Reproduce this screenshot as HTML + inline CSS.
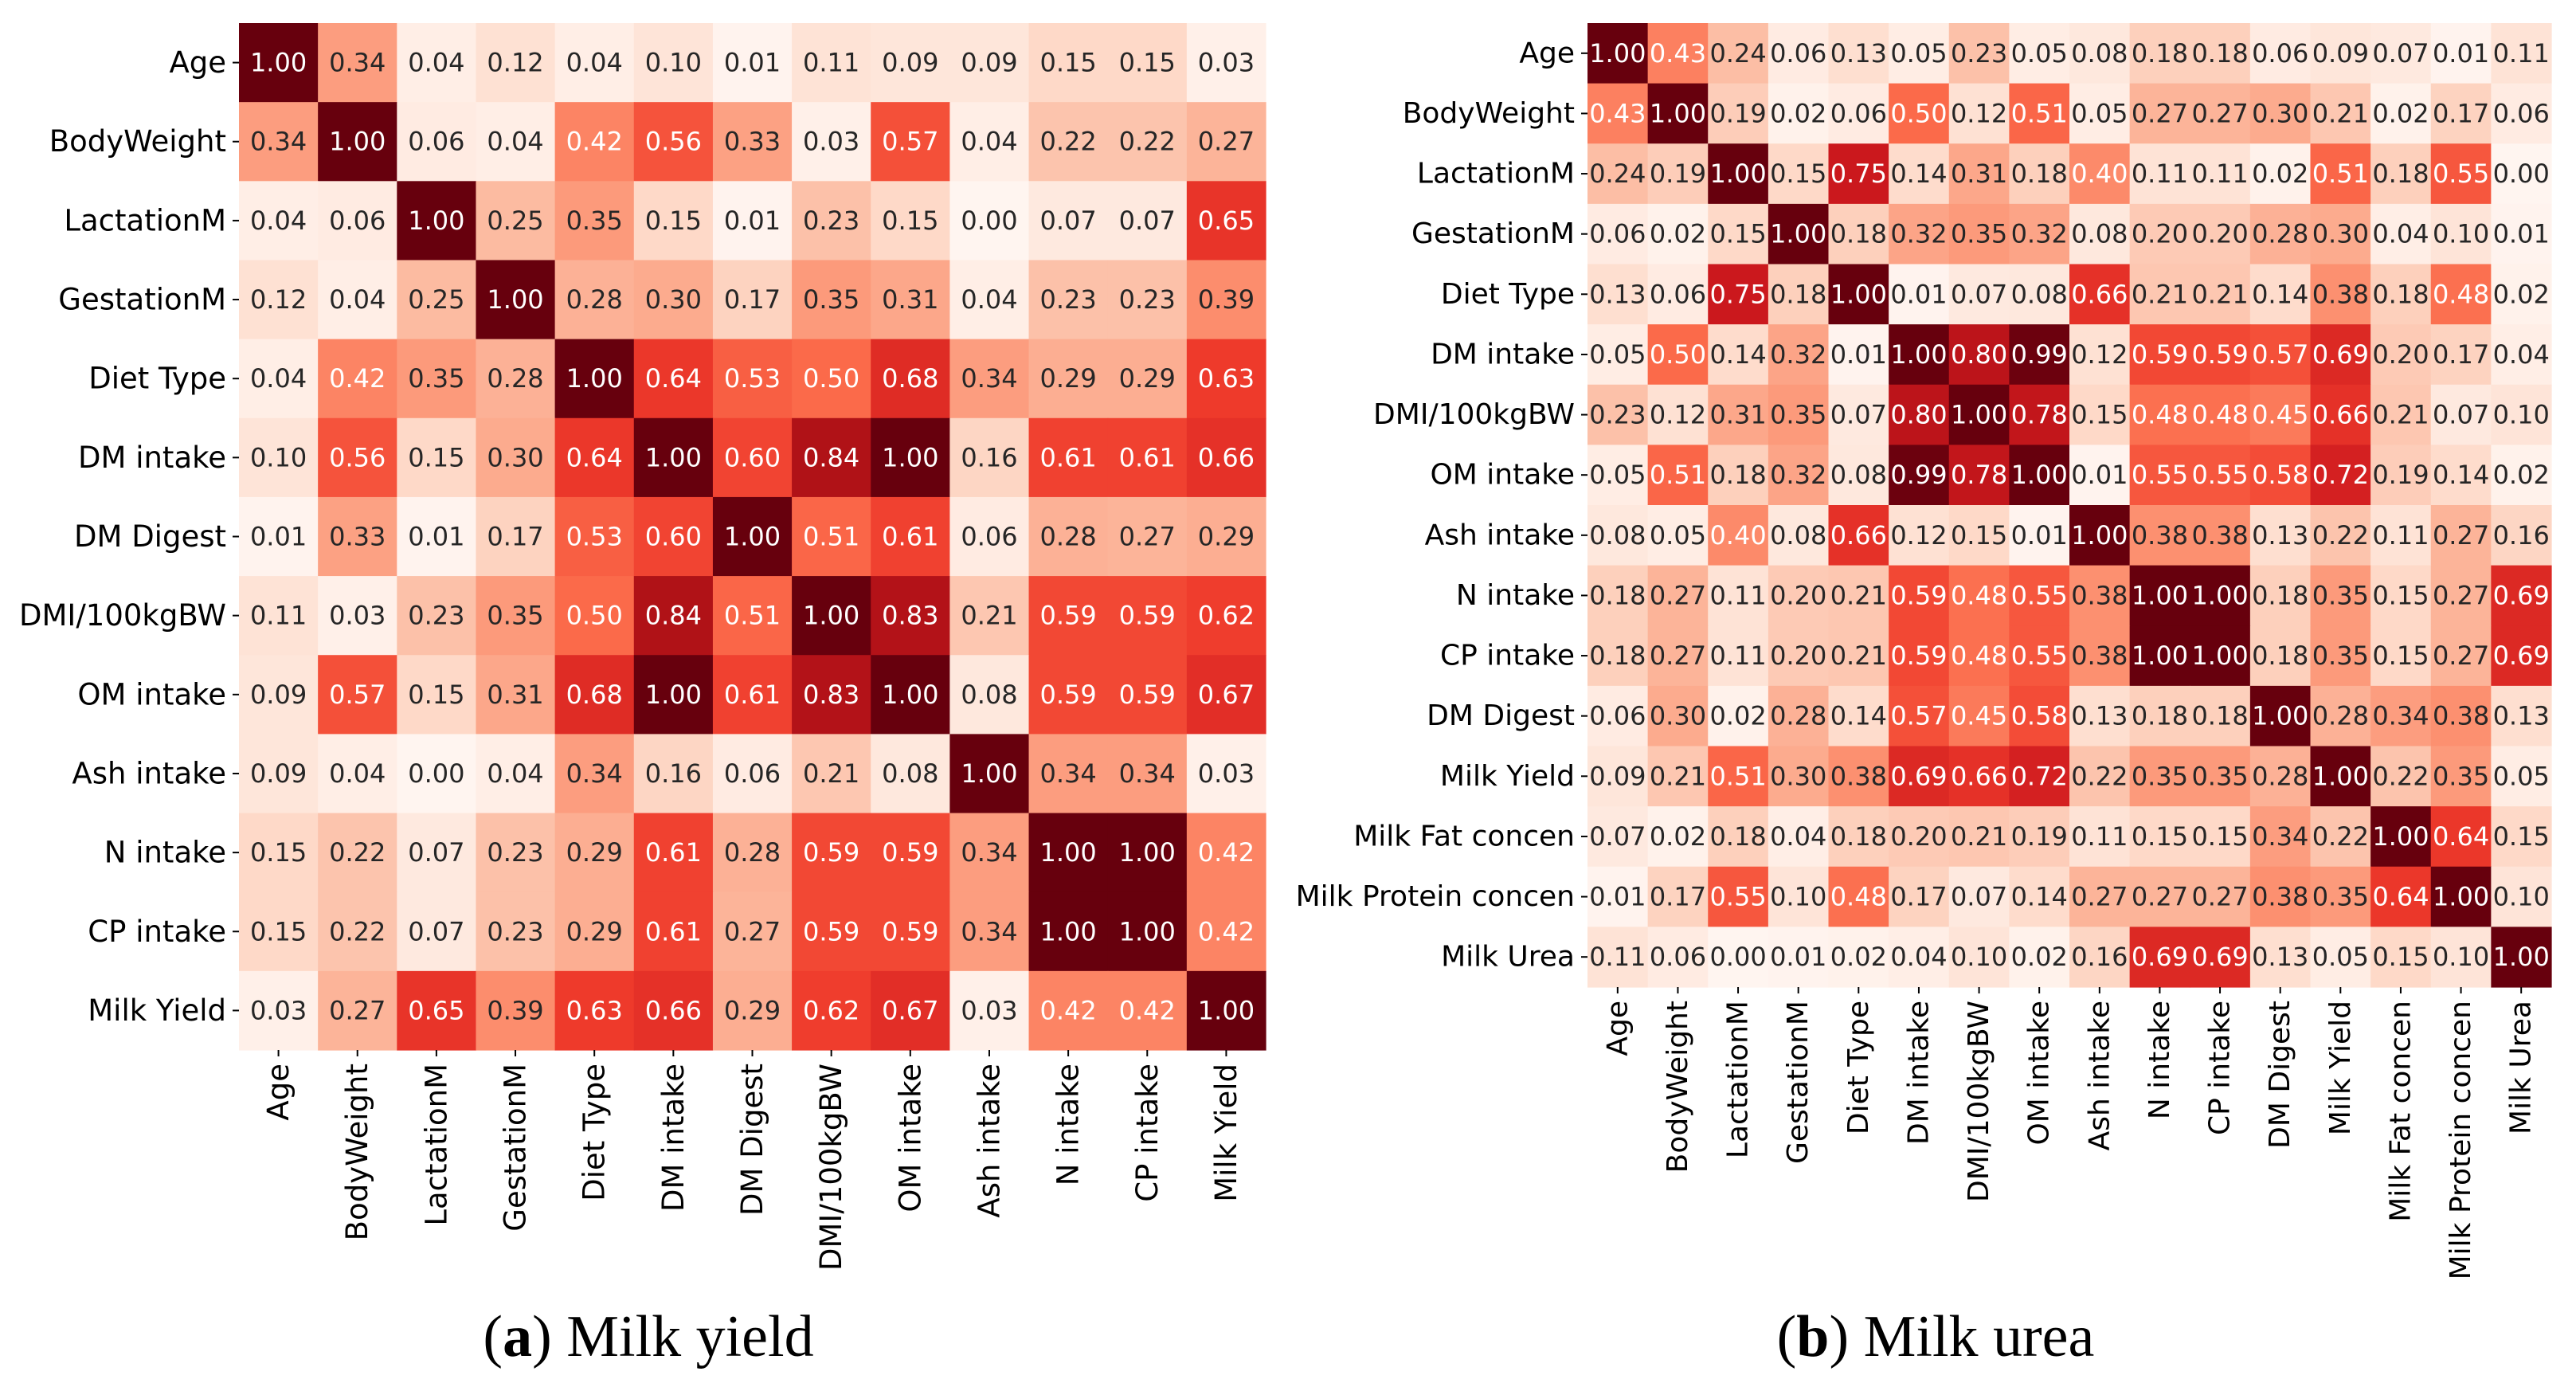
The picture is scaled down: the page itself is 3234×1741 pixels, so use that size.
<!DOCTYPE html>
<html><head><meta charset="utf-8">
<style>
html,body{margin:0;padding:0;background:#fff;}
svg{display:block;}
</style></head>
<body>
<svg id="fig" width="3234" height="1741" xmlns="http://www.w3.org/2000/svg">
  <g id="panelA"></g>
  <g id="panelB"></g>
  <text x="814" y="1702" text-anchor="middle" font-family="Liberation Serif, serif" font-size="74"><tspan>(</tspan><tspan font-weight="bold">a</tspan><tspan>) Milk yield</tspan></text>
  <text x="2430" y="1702" text-anchor="middle" font-family="Liberation Serif, serif" font-size="74"><tspan>(</tspan><tspan font-weight="bold">b</tspan><tspan>) Milk urea</tspan></text>
</svg>
<script>
const labelsA = ["Age","BodyWeight","LactationM","GestationM","Diet Type","DM intake","DM Digest","DMI/100kgBW","OM intake","Ash intake","N intake","CP intake","Milk Yield"];
const valuesA = [
[1.00,0.34,0.04,0.12,0.04,0.10,0.01,0.11,0.09,0.09,0.15,0.15,0.03],
[0.34,1.00,0.06,0.04,0.42,0.56,0.33,0.03,0.57,0.04,0.22,0.22,0.27],
[0.04,0.06,1.00,0.25,0.35,0.15,0.01,0.23,0.15,0.00,0.07,0.07,0.65],
[0.12,0.04,0.25,1.00,0.28,0.30,0.17,0.35,0.31,0.04,0.23,0.23,0.39],
[0.04,0.42,0.35,0.28,1.00,0.64,0.53,0.50,0.68,0.34,0.29,0.29,0.63],
[0.10,0.56,0.15,0.30,0.64,1.00,0.60,0.84,1.00,0.16,0.61,0.61,0.66],
[0.01,0.33,0.01,0.17,0.53,0.60,1.00,0.51,0.61,0.06,0.28,0.27,0.29],
[0.11,0.03,0.23,0.35,0.50,0.84,0.51,1.00,0.83,0.21,0.59,0.59,0.62],
[0.09,0.57,0.15,0.31,0.68,1.00,0.61,0.83,1.00,0.08,0.59,0.59,0.67],
[0.09,0.04,0.00,0.04,0.34,0.16,0.06,0.21,0.08,1.00,0.34,0.34,0.03],
[0.15,0.22,0.07,0.23,0.29,0.61,0.28,0.59,0.59,0.34,1.00,1.00,0.42],
[0.15,0.22,0.07,0.23,0.29,0.61,0.27,0.59,0.59,0.34,1.00,1.00,0.42],
[0.03,0.27,0.65,0.39,0.63,0.66,0.29,0.62,0.67,0.03,0.42,0.42,1.00]];
const labelsB = ["Age","BodyWeight","LactationM","GestationM","Diet Type","DM intake","DMI/100kgBW","OM intake","Ash intake","N intake","CP intake","DM Digest","Milk Yield","Milk Fat concen","Milk Protein concen","Milk Urea"];
const valuesB = [
[1.00,0.43,0.24,0.06,0.13,0.05,0.23,0.05,0.08,0.18,0.18,0.06,0.09,0.07,0.01,0.11],
[0.43,1.00,0.19,0.02,0.06,0.50,0.12,0.51,0.05,0.27,0.27,0.30,0.21,0.02,0.17,0.06],
[0.24,0.19,1.00,0.15,0.75,0.14,0.31,0.18,0.40,0.11,0.11,0.02,0.51,0.18,0.55,0.00],
[0.06,0.02,0.15,1.00,0.18,0.32,0.35,0.32,0.08,0.20,0.20,0.28,0.30,0.04,0.10,0.01],
[0.13,0.06,0.75,0.18,1.00,0.01,0.07,0.08,0.66,0.21,0.21,0.14,0.38,0.18,0.48,0.02],
[0.05,0.50,0.14,0.32,0.01,1.00,0.80,0.99,0.12,0.59,0.59,0.57,0.69,0.20,0.17,0.04],
[0.23,0.12,0.31,0.35,0.07,0.80,1.00,0.78,0.15,0.48,0.48,0.45,0.66,0.21,0.07,0.10],
[0.05,0.51,0.18,0.32,0.08,0.99,0.78,1.00,0.01,0.55,0.55,0.58,0.72,0.19,0.14,0.02],
[0.08,0.05,0.40,0.08,0.66,0.12,0.15,0.01,1.00,0.38,0.38,0.13,0.22,0.11,0.27,0.16],
[0.18,0.27,0.11,0.20,0.21,0.59,0.48,0.55,0.38,1.00,1.00,0.18,0.35,0.15,0.27,0.69],
[0.18,0.27,0.11,0.20,0.21,0.59,0.48,0.55,0.38,1.00,1.00,0.18,0.35,0.15,0.27,0.69],
[0.06,0.30,0.02,0.28,0.14,0.57,0.45,0.58,0.13,0.18,0.18,1.00,0.28,0.34,0.38,0.13],
[0.09,0.21,0.51,0.30,0.38,0.69,0.66,0.72,0.22,0.35,0.35,0.28,1.00,0.22,0.35,0.05],
[0.07,0.02,0.18,0.04,0.18,0.20,0.21,0.19,0.11,0.15,0.15,0.34,0.22,1.00,0.64,0.15],
[0.01,0.17,0.55,0.10,0.48,0.17,0.07,0.14,0.27,0.27,0.27,0.38,0.35,0.64,1.00,0.10],
[0.11,0.06,0.00,0.01,0.02,0.04,0.10,0.02,0.16,0.69,0.69,0.13,0.05,0.15,0.10,1.00]];

const REDS = ["#fff5f0","#fee0d2","#fcbba1","#fc9272","#fb6a4a","#ef3b2c","#cb181d","#a50f15","#67000d"];
function hex(h){return [1,3,5].map(i=>parseInt(h.substr(i,2),16));}
function cmap(v){
  v=Math.max(0,Math.min(1,v));
  const t=v*8, i=Math.min(7,Math.floor(t)), f=t-i;
  const a=hex(REDS[i]), b=hex(REDS[i+1]);
  return a.map((c,k)=>Math.round(c+(b[k]-c)*f));
}
function lum(rgb){
  const c=rgb.map(x=>{x/=255;return x<=0.03928?x/12.92:Math.pow((x+0.055)/1.055,2.4);});
  return 0.2126*c[0]+0.7152*c[1]+0.0722*c[2];
}
const NS="http://www.w3.org/2000/svg";
function mk(tag,parent,attrs){
  const e=document.createElementNS(NS,tag);
  for(const k in attrs) e.setAttribute(k,attrs[k]);
  parent.appendChild(e); return e;
}
function draw(gid,labels,vals,x0,y0,size,numFs,labFs){
  const g=document.getElementById(gid);
  const n=labels.length, c=size/n;
  const xs=i=>x0+i*c, ys=j=>y0+j*c;
  for(let r=0;r<n;r++){
    for(let k=0;k<n;k++){
      const v=vals[r][k], rgb=cmap(v);
      const rect=mk('rect',g,{x:xs(k),y:ys(r),width:c+0.6,height:c+0.6,fill:'rgb('+rgb.join(',')+')'});
      
      
      const t=mk('text',g,{x:xs(k)+c/2,y:ys(r)+c/2,'text-anchor':'middle','dominant-baseline':'central','font-family':'DejaVu Sans, Liberation Sans, sans-serif','font-size':numFs,fill:lum(rgb)<0.408?'#ffffff':'#262626'});
      t.textContent=v.toFixed(2);
      
      
    }
  }
  for(let i=0;i<n;i++){
    const cy=ys(i)+c/2, cx=xs(i)+c/2;
    mk('line',g,{x1:x0-8,y1:cy,x2:x0,y2:cy,stroke:'#000','stroke-width':2});
    const yl=mk('text',g,{x:x0-16,y:cy,'text-anchor':'end','dominant-baseline':'central','font-family':'DejaVu Sans, Liberation Sans, sans-serif','font-size':labFs,fill:'#000'});
    yl.textContent=labels[i];
    
    
    const yb=y0+size;
    mk('line',g,{x1:cx,y1:yb,x2:cx,y2:yb+8,stroke:'#000','stroke-width':2});
    const xl=mk('text',g,{x:0,y:0,'text-anchor':'end','dominant-baseline':'central','font-family':'DejaVu Sans, Liberation Sans, sans-serif','font-size':labFs,fill:'#000',transform:'translate('+cx+','+(yb+17)+') rotate(-90)'});
    xl.textContent=labels[i];
    
    
  }
}
draw('panelA',labelsA,valuesA,300,29,1289,32,37);
draw('panelB',labelsB,valuesB,1993,29,1210,32,36);
</script>
</body></html>
